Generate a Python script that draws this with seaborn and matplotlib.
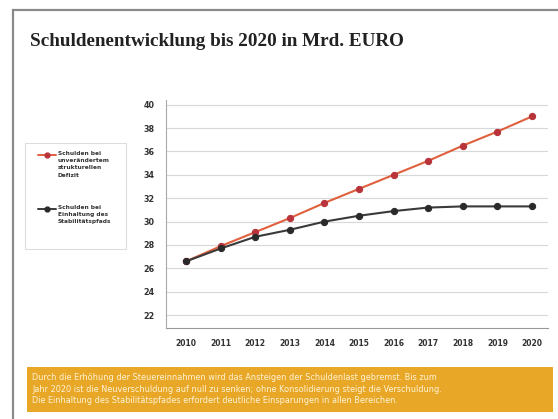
import matplotlib
matplotlib.use("Agg")
import matplotlib.pyplot as plt
import seaborn as sns
import pandas as pd
from matplotlib.patches import Rectangle
from matplotlib.lines import Line2D

years = [2010, 2011, 2012, 2013, 2014, 2015, 2016, 2017, 2018, 2019, 2020]
schulden_defizit = [26.6, 27.9, 29.1, 30.3, 31.6, 32.8, 34.0, 35.2, 36.5, 37.7, 39.0]
schulden_pfad = [26.6, 27.7, 28.7, 29.3, 30.0, 30.5, 30.9, 31.2, 31.3, 31.3, 31.3]
y_ticks = [22, 24, 26, 28, 30, 32, 34, 36, 38, 40]
label_defizit = "Schulden bei\nunverändertem\nstrukturellen\nDefizit"
label_pfad = "Schulden bei\nEinhaltung des\nStabilitätspfads"
title = "Schuldenentwicklung bis 2020 in Mrd. EURO"
note = ("Durch die Erhöhung der Steuereinnahmen wird das Ansteigen der Schuldenlast gebremst. Bis zum\n"
        "Jahr 2020 ist die Neuverschuldung auf null zu senken; ohne Konsolidierung steigt die Verschuldung.\n"
        "Die Einhaltung des Stabilitätspfades erfordert deutliche Einsparungen in allen Bereichen.")

df = pd.DataFrame({
    "Jahr": years * 2,
    "Wert": schulden_defizit + schulden_pfad,
    "Reihe": ["Defizit"] * len(years) + ["Pfad"] * len(years),
})

sns.set_theme(style="white")
plt.rcParams['font.family'] = ['DejaVu Sans']

fig = plt.figure(figsize=(5.58, 4.19), dpi=100)
fig.patch.set_facecolor("white")

# page frame
fig.patches.append(Rectangle((13/558, -0.1), 1.2, 1 - 10/419 + 0.1, transform=fig.transFigure,
                             fill=False, edgecolor="#8a8a8a", linewidth=1.6, zorder=0))

ax = fig.add_axes([166/558, 1 - 328/419, (548 - 166)/558, (328 - 100)/419])
ax.set_facecolor("white")

pal = {"Defizit": "#e0603e", "Pfad": "#3a3a3a"}
sns.lineplot(data=df, x="Jahr", y="Wert", hue="Reihe", palette=pal, ax=ax,
             marker="o", markersize=4.5, linewidth=1.5, legend=False)
for line, mc in zip(ax.get_lines(), ["#b8333a", "#2a2a2a"]):
    line.set_markerfacecolor(mc)
    line.set_markeredgecolor(mc)

ax.set_xlim(2009.42, 2020.46)
ax.set_ylim(20.9, 40.4)
ax.set_xticks(years)
ax.set_xticklabels([str(y) for y in years], fontsize=5.5, fontweight="bold", color="#333333")
ax.set_yticks(y_ticks)
ax.set_yticklabels([str(v) for v in y_ticks], fontsize=5.8, fontweight="bold", color="#333333")
ax.tick_params(axis="y", length=3, color="#999999", pad=5)
ax.tick_params(axis="x", length=0, pad=8)
ax.yaxis.grid(True, color="#d8d8d8", linewidth=0.8)
ax.set_axisbelow(True)
ax.set_xlabel("")
ax.set_ylabel("")
for s in ["top", "right"]:
    ax.spines[s].set_visible(False)
ax.spines["left"].set_color("#aaaaaa")
ax.spines["left"].set_linewidth(0.8)
ax.spines["bottom"].set_color("#999999")
ax.spines["bottom"].set_linewidth(0.8)

# title
fig.text(30/558, 1 - 42/419, title, fontsize=13.8, fontweight="bold",
         family=["Liberation Serif", "DejaVu Serif"], color="#222222", va="center", ha="left")

# legend box
fig.patches.append(Rectangle((25/558, 1 - 249/419), (126 - 25)/558, (249 - 143)/419,
                             transform=fig.transFigure, fill=False, edgecolor="#dddddd", linewidth=0.8))
fig.lines.append(Line2D([38/558, 56/558], [1 - 155/419] * 2, transform=fig.transFigure,
                        color=pal["Defizit"], linewidth=1.4))
fig.lines.append(Line2D([47/558], [1 - 155/419], transform=fig.transFigure, marker="o",
                        markersize=3.5, color="#b8333a"))
fig.text(58/558, 1 - 151/419, label_defizit, fontsize=4.2, fontweight="bold", color="#333333",
         va="top", ha="left", linespacing=1.55)
fig.lines.append(Line2D([38/558, 56/558], [1 - 209/419] * 2, transform=fig.transFigure,
                        color=pal["Pfad"], linewidth=1.4))
fig.lines.append(Line2D([47/558], [1 - 209/419], transform=fig.transFigure, marker="o",
                        markersize=3.5, color="#2a2a2a"))
fig.text(58/558, 1 - 205/419, label_pfad, fontsize=4.2, fontweight="bold", color="#333333",
         va="top", ha="left", linespacing=1.55)

# orange note box
fig.patches.append(Rectangle((27/558, 1 - 412/419), (553 - 27)/558, (412 - 367)/419,
                             transform=fig.transFigure, facecolor="#e8a726", edgecolor="none"))
fig.text(32/558, 1 - 389/419, note, fontsize=5.9, color="#fff4d8", va="center", ha="left",
         linespacing=1.4)

fig.savefig("out.png", dpi=100)
